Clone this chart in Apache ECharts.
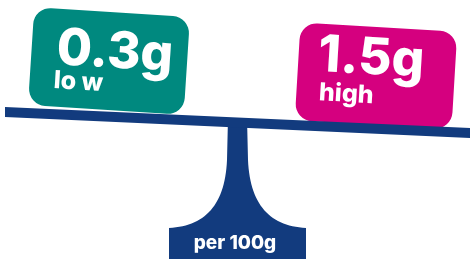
<!DOCTYPE html>
<html>
<head>
<meta charset="utf-8">
<script src="https://cdn.jsdelivr.net/npm/echarts@6/dist/echarts.min.js"></script>
<style>
  html, body { margin: 0; padding: 0; background: #fff; }
  #chart { width: 470px; height: 259px; }
</style>
</head>
<body>
<div id="chart"></div>
<script>
const amounts = [0.3, 1.5]
const unit = 'g'
const levels = ['lo w', 'high']
const baseLabel = 'per 100g'

const boxColors = ['#00897f', '#d5007f']
const navy = '#123b7e'
const FONT = 'Inter'

// box placement: centre, size, tilt (deg, clockwise), text offsets
const boxes = [
  { cx: 109, cy: 61, w: 156, h: 98, tilt: 3.7, vx: -53, vy: -9, lx: -54, ly: 23 },
  { cx: 376, cy: 76, w: 157, h: 98, tilt: 3.4, vx: -59, vy: -17, lx: -56, ly: 20 },
]

// sample a cubic bezier into polygon points
function bez(p0, p1, p2, p3, n) {
  const out = []
  for (let i = 0; i <= n; i++) {
    const t = i / n, u = 1 - t
    out.push([
      u*u*u*p0[0] + 3*u*u*t*p1[0] + 3*u*t*t*p2[0] + t*t*t*p3[0],
      u*u*u*p0[1] + 3*u*u*t*p1[1] + 3*u*t*t*p2[1] + t*t*t*p3[1],
    ])
  }
  return out
}

const pedestal = [
  [228, 118], [247, 118],
  ...bez([248, 160], [250, 205], [270, 226], [306, 228], 30),
  [306, 262], [169, 262],
  ...bez([169, 228], [205, 226], [225, 205], [227, 160], 30),
]

const chart = echarts.init(document.getElementById('chart'), null, { renderer: 'canvas' })

const boxGroups = boxes.map((b, i) => ({
  type: 'group',
  x: b.cx,
  y: b.cy,
  rotation: -b.tilt * Math.PI / 180,
  children: [
    {
      type: 'rect',
      shape: { x: -b.w / 2, y: -b.h / 2, width: b.w, height: b.h, r: 17 },
      style: { fill: boxColors[i] },
    },
    {
      type: 'text',
      x: b.vx, y: b.vy,
      style: {
        text: amounts[i] + unit,
        fill: '#fff',
        font: `800 51px ${FONT}`,
        verticalAlign: 'middle',
      },
    },
    {
      type: 'text',
      x: b.lx, y: b.ly,
      style: {
        text: levels[i],
        fill: '#fff',
        font: `800 25px ${FONT}`,
        verticalAlign: 'middle',
      },
    },
  ],
}))

chart.setOption({
  backgroundColor: '#fff',
  animation: false,
  graphic: [
    { type: 'polygon', shape: { points: pedestal }, style: { fill: navy } },
    {
      type: 'text',
      x: 235, y: 243,
      style: {
        text: baseLabel,
        fill: '#fff',
        font: `800 19px ${FONT}`,
        align: 'center',
        verticalAlign: 'middle',
      },
    },
    ...boxGroups,
    {
      type: 'polygon',
      shape: { points: [[5, 107], [472, 128], [472, 138], [5, 117]] },
      style: { fill: navy },
      z: 10,
    },
  ],
})
</script>
</body>
</html>
